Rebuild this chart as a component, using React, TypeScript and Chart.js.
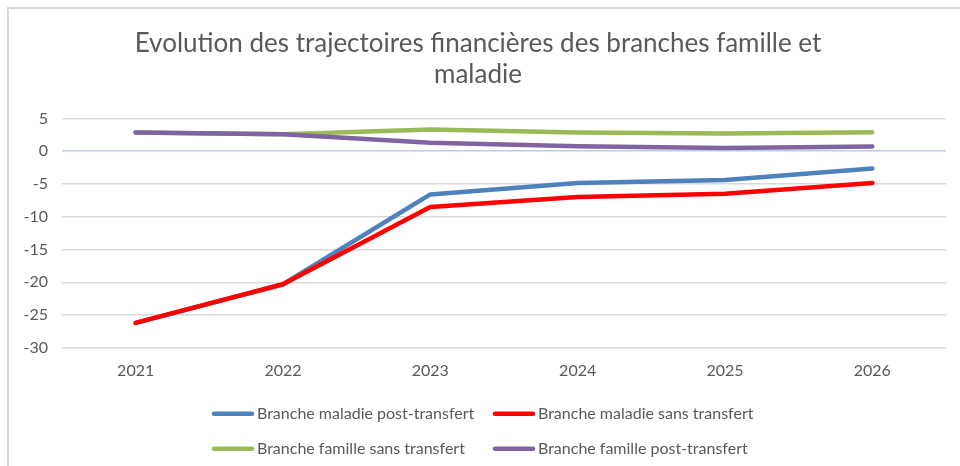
import React, { useEffect, useRef } from "react";
import { Chart, registerables } from "chart.js";

Chart.register(...registerables);

const years = ["2021", "2022", "2023", "2024", "2025", "2026"];
const maladiePost = [-26.2, -20.3, -6.6, -4.85, -4.4, -2.65];
const maladieSans = [-26.2, -20.3, -8.5, -7.0, -6.5, -4.85];
const familleSans = [2.85, 2.6, 3.3, 2.85, 2.7, 2.9];
const famillePost = [2.85, 2.6, 1.3, 0.75, 0.5, 0.7];

const seriesNames = [
  "Branche maladie post-transfert",
  "Branche maladie sans transfert",
  "Branche famille sans transfert",
  "Branche famille post-transfert",
];
const seriesColors = ["#4f81bd", "#ff0000", "#9bbb59", "#8064a2"];
const titleLines = [
  "Evolution des trajectoires financières des branches famille et",
  "maladie",
];

const FONT = "Lato, 'Open Sans', sans-serif";
const TEXT = "#595959";

const legendPlugin = {
  id: "gridLegend",
  afterDraw(chart: any) {
    const ctx = chart.ctx;
    const base = chart.chartArea.bottom;
    ctx.save();
    ctx.font = `16px ${FONT}`;
    ctx.fillStyle = TEXT;
    ctx.textBaseline = "middle";
    ctx.textAlign = "left";
    chart.data.datasets.forEach((ds: any, i: number) => {
      const col = i % 2;
      const row = Math.floor(i / 2);
      const x = 212 + col * 281;
      const y = base + 66 + row * 35;
      ctx.strokeStyle = ds.borderColor;
      ctx.lineWidth = 4.5;
      ctx.lineCap = "round";
      ctx.beginPath();
      ctx.moveTo(x + 2, y);
      ctx.lineTo(x + 40, y);
      ctx.stroke();
      ctx.fillText(ds.label, x + 45, y);
    });
    ctx.restore();
  },
};

export default function App() {
  const ref = useRef<HTMLCanvasElement>(null);
  useEffect(() => {
    const values = [maladiePost, maladieSans, familleSans, famillePost];
    const orders = [4, 3, 2, 1];
    const chart = new Chart(ref.current as HTMLCanvasElement, {
      type: "line",
      data: {
        labels: years,
        datasets: values.map((v, i) => ({
          label: seriesNames[i],
          data: v,
          borderColor: seriesColors[i],
          backgroundColor: seriesColors[i],
          borderWidth: 4.5,
          borderCapStyle: "round" as const,
          borderJoinStyle: "round" as const,
          pointRadius: 0,
          tension: 0,
          order: orders[i],
        })),
      },
      options: {
        animation: false,
        responsive: false,
        layout: { padding: { left: 10, right: 14, top: 0, bottom: 73 } },
        plugins: {
          legend: { display: false },
          tooltip: { enabled: false },
          title: {
            display: true,
            text: titleLines,
            color: TEXT,
            font: { family: FONT, size: 26, weight: "normal", lineHeight: 1.2 },
            padding: { top: 28, bottom: 28 },
          },
        },
        scales: {
          x: {
            offset: true,
            grid: { display: false, drawTicks: false },
            border: { display: false },
            ticks: { color: TEXT, font: { family: FONT, size: 16 }, padding: 13 },
          },
          y: {
            min: -30,
            max: 5,
            afterFit: (s: any) => {
              s.width = 52;
            },
            grid: {
              drawTicks: false,
              lineWidth: 1.5,
              color: (c: any) => (c.tick && c.tick.value === 0 ? "#b9cde5" : "#d9d9d9"),
            },
            border: { display: false },
            ticks: {
              stepSize: 5,
              color: TEXT,
              font: { family: FONT, size: 16 },
              padding: 14,
            },
          },
        },
      },
      plugins: [legendPlugin],
    });
    return () => chart.destroy();
  }, []);

  return (
    <div style={{ position: "fixed", left: 0, top: 0, width: 960, height: 466, background: "#fff", overflow: "hidden" }}>
      <div
        style={{
          position: "absolute",
          left: 7,
          top: 7,
          width: 980,
          height: 500,
          borderLeft: "2px solid #d9d9d9",
          borderTop: "2px solid #d9d9d9",
        }}
      />
      <canvas ref={ref} width={960} height={466} style={{ position: "absolute", left: 0, top: 0 }} />
    </div>
  );
}
